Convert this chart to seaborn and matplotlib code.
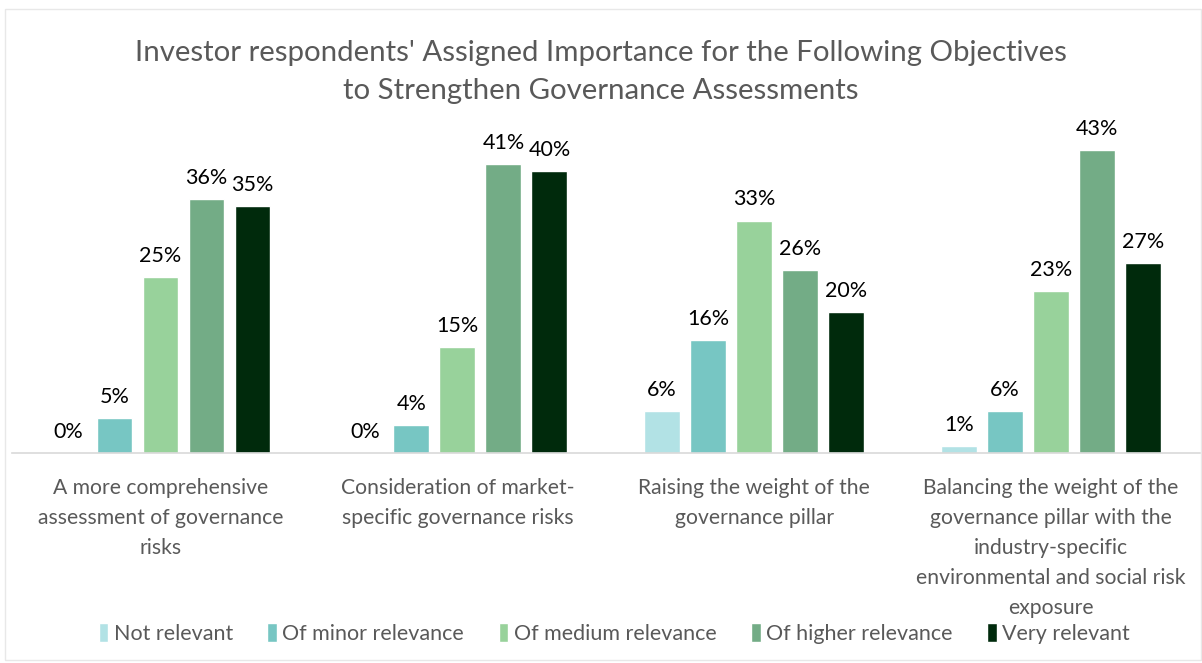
import matplotlib
matplotlib.use("Agg")
import matplotlib.pyplot as plt
import seaborn as sns
import pandas as pd
from matplotlib.patches import Rectangle

categories = [
    "A more comprehensive\nassessment of governance\nrisks",
    "Consideration of market-\nspecific governance risks",
    "Raising the weight of the\ngovernance pillar",
    "Balancing the weight of the\ngovernance pillar with the\nindustry-specific\nenvironmental and social risk\nexposure",
]
series = ["Not relevant", "Of minor relevance", "Of medium relevance",
          "Of higher relevance", "Very relevant"]
not_relevant = [0, 0, 6, 1]
minor = [5, 4, 16, 6]
medium = [25, 15, 33, 23]
higher = [36, 41, 26, 43]
very = [35, 40, 20, 27]
colors = ["#B2E2E5", "#77C6C3", "#98D29B", "#73AC86", "#002A0C"]

values = [not_relevant, minor, medium, higher, very]
rows = []
for s, vals in zip(series, values):
    for c, v in zip(categories, vals):
        rows.append({"category": c, "series": s, "value": v})
df = pd.DataFrame(rows)

sns.set_theme(style="white")
plt.rcParams["font.family"] = ["Lato", "DejaVu Sans"]

fig = plt.figure(figsize=(12.02, 6.63), dpi=100)
ax = fig.add_axes([0.01, 0.3167, 0.988, 0.51])

sns.barplot(data=df, x="category", y="value", hue="series", hue_order=series,
            order=categories, palette=colors, width=0.775, gap=0.22,
            saturation=1, ax=ax, legend=True)

for cont in ax.containers:
    ax.bar_label(cont, labels=[f"{int(round(v))}%" for v in cont.datavalues],
                 padding=8, fontsize=15.5, color="#000000")

ax.set_ylim(0, 48)
ax.set_xlim(-0.5, 3.5)
ax.set_xlabel("")
ax.set_ylabel("")
ax.set_yticks([])
for sp in ["top", "right", "left"]:
    ax.spines[sp].set_visible(False)
ax.spines["bottom"].set_color("#D9D9D9")
ax.spines["bottom"].set_linewidth(1.2)
ax.tick_params(axis="x", length=0, pad=18, labelsize=15.2, labelcolor="#595959")
for lbl in ax.get_xticklabels():
    lbl.set_linespacing(1.62)

fig.suptitle("Investor respondents' Assigned Importance for the Following Objectives\nto Strengthen Governance Assessments",
             y=0.94, fontsize=21.2, color="#595959", linespacing=1.57)

handles, labels = ax.get_legend_handles_labels()
ax.get_legend().remove()
fig.legend(handles, labels, loc="center", bbox_to_anchor=(0.511, 0.045), ncol=5,
           frameon=False, fontsize=15.5, labelcolor="#595959", handlelength=0.45,
           handleheight=1.0, handletextpad=0.25, columnspacing=1.6)

fig.patches.append(Rectangle((0.004, 0.004), 0.995, 0.982, transform=fig.transFigure,
                             fill=False, edgecolor="#E8E8E8", linewidth=1))

fig.savefig("out.png", dpi=100)
